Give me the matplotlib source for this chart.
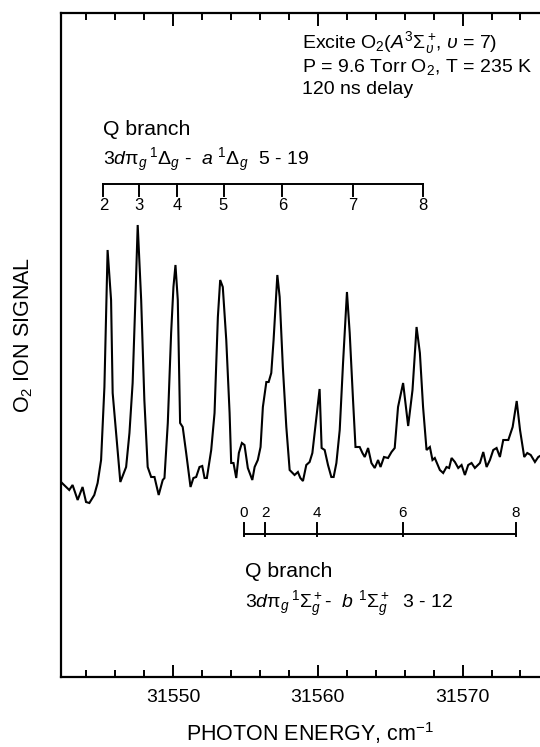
import matplotlib
matplotlib.use("Agg")
import matplotlib.pyplot as plt
from matplotlib.ticker import MultipleLocator

plt.rcParams['font.family'] = ['Liberation Sans', 'DejaVu Sans']
plt.rcParams['mathtext.fontset'] = 'custom'
plt.rcParams['mathtext.rm'] = 'Liberation Sans'
plt.rcParams['mathtext.it'] = 'Liberation Sans:italic'
plt.rcParams['mathtext.bf'] = 'Liberation Sans:bold'

# ---- spectrum (photon energy in cm^-1, O2+ ion signal in arbitrary units) ----
energy = [31542.32, 31542.82, 31543.05, 31543.40, 31543.74, 31543.98, 31544.21, 31544.55,
          31544.78, 31545.02, 31545.25, 31545.47, 31545.71, 31545.82, 31546.06, 31546.35,
          31546.75, 31546.98, 31547.20, 31547.39, 31547.55, 31547.79, 31548.01, 31548.24,
          31548.48, 31548.71, 31549.00, 31549.28, 31549.40, 31549.63, 31549.86, 31550.02,
          31550.16, 31550.32, 31550.48, 31550.66, 31550.90, 31551.20, 31551.40, 31551.59,
          31551.82, 31552.01, 31552.17, 31552.33, 31552.63, 31552.86, 31553.09, 31553.25,
          31553.43, 31553.67, 31553.90, 31554.01, 31554.17, 31554.36, 31554.54, 31554.75,
          31554.93, 31555.16, 31555.47, 31555.63, 31555.85, 31556.04, 31556.20, 31556.44,
          31556.60, 31556.78, 31556.94, 31557.20, 31557.36, 31557.58, 31557.82, 31558.05,
          31558.39, 31558.62, 31558.79, 31558.97, 31559.20, 31559.43, 31559.62, 31559.90,
          31560.12, 31560.26, 31560.47, 31560.70, 31560.93, 31561.09, 31561.28, 31561.51,
          31561.74, 31562.01, 31562.20, 31562.43, 31562.60, 31562.89, 31563.08, 31563.24,
          31563.47, 31563.70, 31563.93, 31564.16, 31564.33, 31564.57, 31564.85, 31565.09,
          31565.31, 31565.54, 31565.89, 31566.24, 31566.54, 31566.82, 31567.05, 31567.27,
          31567.51, 31567.74, 31567.92, 31568.08, 31568.43, 31568.66, 31568.89, 31569.07,
          31569.24, 31569.47, 31569.70, 31569.93, 31570.16, 31570.39, 31570.62, 31570.85,
          31571.20, 31571.43, 31571.66, 31571.89, 31572.12, 31572.35, 31572.58, 31572.81,
          31573.16, 31573.46, 31573.74, 31573.97, 31574.26, 31574.47, 31574.71, 31575.00,
          31575.23, 31575.35]
signal = [194, 187, 192, 177, 190, 175, 174, 182,
          194, 217, 290, 427, 377, 284, 244, 195,
          210, 244, 294, 377, 452, 377, 277, 210,
          200, 200, 182, 197, 199, 254, 344, 390,
          412, 377, 254, 250, 224, 190, 199, 200,
          210, 211, 199, 199, 227, 264, 360, 397,
          390, 337, 264, 214, 214, 199, 224, 234,
          232, 209, 197, 210, 217, 230, 270, 295,
          295, 304, 337, 402, 380, 310, 250, 207,
          202, 205, 199, 196, 212, 215, 224, 260,
          288, 229, 227, 212, 200, 200, 214, 247,
          314, 385, 344, 277, 230, 230, 224, 220,
          229, 214, 209, 217, 210, 220, 219, 225,
          229, 270, 294, 251, 287, 350, 324, 270,
          227, 230, 217, 219, 207, 204, 210, 209,
          219, 215, 209, 212, 202, 212, 214, 209,
          214, 225, 210, 217, 227, 229, 220, 237,
          237, 250, 276, 247, 220, 224, 222, 215,
          220, 221]

# ---- rotational assignment combs ----
delta_J = [2, 3, 4, 5, 6, 7, 8]
delta_pos = [31545.18, 31547.62, 31550.25, 31553.48, 31557.54, 31562.43, 31567.27]
sigma_J = [0, 2, 4, 6, 8]
sigma_pos = [31554.87, 31556.37, 31559.94, 31565.85, 31573.69]

xlim = (31542.25, 31575.35)
ylim = (0, 664)

fig = plt.figure(figsize=(5.40, 7.47), dpi=100)
ax = fig.add_axes([61/540, 70/747, 479/540, 664/747])

ax.plot(energy, signal, color='black', lw=1.5, solid_joinstyle='miter')
ax.set_xlim(*xlim)
ax.set_ylim(*ylim)

# axes styling
for side in ['left', 'bottom', 'top']:
    ax.spines[side].set_linewidth(1.6)
ax.spines['right'].set_visible(False)
ax.set_yticks([])
ax.xaxis.set_major_locator(MultipleLocator(10))
ax.xaxis.set_minor_locator(MultipleLocator(2))
ax.tick_params(axis='x', which='both', direction='in', top=True, bottom=True,
               width=1.4, labelsize=14, pad=9)
ax.tick_params(axis='x', which='major', length=9)
ax.tick_params(axis='x', which='minor', length=5)
ax.xaxis.set_major_formatter(plt.FuncFormatter(lambda v, p: f"{v:.0f}"))

# upper comb (Delta)
yl = 493
ax.plot([delta_pos[0], delta_pos[-1]], [yl, yl], color='black', lw=1.4)
for J, e in zip(delta_J, delta_pos):
    ax.plot([e, e], [yl, yl - 12], color='black', lw=1.4)
    ax.text(e, yl - 21, str(J), ha='center', va='center', fontsize=12)

# lower comb (Sigma)
yb = 143
ax.plot([sigma_pos[0], sigma_pos[-1]], [yb, yb], color='black', lw=1.4)
for J, e in zip(sigma_J, sigma_pos):
    ax.plot([e, e], [yb - 2, yb + 11], color='black', lw=1.4)
    ax.text(e, yb + 21, str(J), ha='center', va='center', fontsize=11)

def ftx(px, py):
    return px / 540, 1 - py / 747

fs = 14
# upper labels
fig.text(*ftx(103, 135), 'Q branch', fontsize=15.3, va='baseline', ha='left')
fig.text(*ftx(103, 165),
         r'3$d\mathrm{\pi}_g\,^1\mathrm{\Delta}_g$ -  $a\ ^1\mathrm{\Delta}_g$  5 - 19',
         fontsize=fs, va='baseline', ha='left')
# lower labels
fig.text(*ftx(245, 577), 'Q branch', fontsize=15.3, va='baseline', ha='left')
fig.text(*ftx(245, 608),
         r'3$d\mathrm{\pi}_g\,^1\mathrm{\Sigma}_g^+$-  $b\ ^1\mathrm{\Sigma}_g^+$  3 - 12',
         fontsize=fs, va='baseline', ha='left')
# conditions
fig.text(*ftx(302, 48),
         r'Excite O$_2$($A^3\mathrm{\Sigma}_{\upsilon}^+\!$, $\upsilon$ = 7)',
         fontsize=fs, va='baseline', ha='left')
fig.text(*ftx(302, 72), r'P = 9.6 Torr O$_2$, T = 235 K', fontsize=fs, va='baseline', ha='left')
fig.text(*ftx(302, 94), '120 ns delay', fontsize=fs, va='baseline', ha='left')

# axis labels
fig.text(*ftx(24, 335), r'O$_2$ ION SIGNAL', rotation=90, fontsize=15.5,
         ha='center', va='center')
fig.text(*ftx(310, 741), r'PHOTON ENERGY, cm$^{-1}$', fontsize=15.5, ha='center',
         va='baseline')

fig.savefig('out.png', dpi=100)
